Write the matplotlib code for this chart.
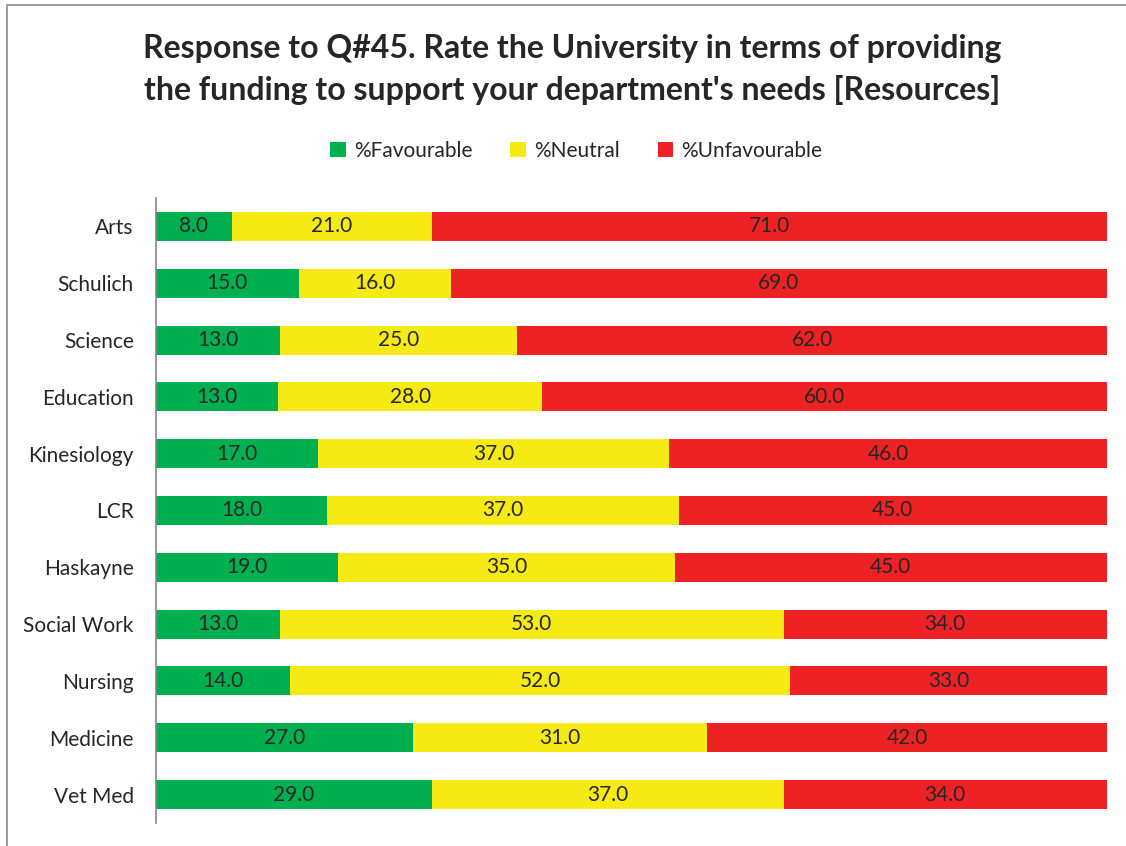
import matplotlib.pyplot as plt
import numpy as np
from matplotlib.patches import Rectangle

plt.rcParams['font.family'] = ['Lato', 'DejaVu Sans']

faculties = ['Arts', 'Schulich', 'Science', 'Education', 'Kinesiology', 'LCR',
             'Haskayne', 'Social Work', 'Nursing', 'Medicine', 'Vet Med']
favourable = [8.0, 15.0, 13.0, 13.0, 17.0, 18.0, 19.0, 13.0, 14.0, 27.0, 29.0]
neutral = [21.0, 16.0, 25.0, 28.0, 37.0, 37.0, 35.0, 53.0, 52.0, 31.0, 37.0]
unfavourable = [71.0, 69.0, 62.0, 60.0, 46.0, 45.0, 45.0, 34.0, 33.0, 42.0, 34.0]

series = [('%Favourable', favourable, '#00B050'),
          ('%Neutral', neutral, '#F5EA14'),
          ('%Unfavourable', unfavourable, '#EE2224')]

fig = plt.figure(figsize=(11.26, 8.46), dpi=100)
ax = fig.add_axes([0.1385, 0.0272, 0.8445, 0.7388])

# outer chart frame (only top/left visible in the reference)
fig.patches.append(Rectangle((7 / 1126, -0.1), 1.2, 1 - 5 / 846 + 0.1,
                             transform=fig.transFigure, fill=False,
                             edgecolor='#8c8c8c', linewidth=1.2))

y = np.arange(len(faculties))
totals = np.array(favourable) + np.array(neutral) + np.array(unfavourable)
left = np.zeros(len(faculties))
for name, vals, color in series:
    vals = np.array(vals)
    width = vals / totals * 100
    ax.barh(y, width, left=left, height=0.51, color=color, label=name)
    for yi, l, w, v in zip(y, left, width, vals):
        ax.text(l + w / 2, yi, f'{v:.1f}', ha='center', va='center',
                fontsize=15, color='#262626')
    left += width

ax.set_xlim(0, 100)
ax.set_ylim(len(faculties) - 0.5, -0.5)
ax.set_yticks(y)
ax.set_yticklabels(faculties, fontsize=15, color='#262626')
ax.tick_params(axis='y', length=0, pad=16)
ax.set_xticks([])
for s in ['top', 'right', 'bottom']:
    ax.spines[s].set_visible(False)
ax.spines['left'].set_color('#868686')
ax.spines['left'].set_linewidth(1.2)

fig.text(0.508, 0.918, "Response to Q#45. Rate the University in terms of providing\n"
         "the funding to support your department's needs [Resources]",
         ha='center', va='center', fontsize=23, fontweight='bold',
         color='#262626', linespacing=1.5)

handles, labels = ax.get_legend_handles_labels()
fig.legend(handles, labels, loc='center', bbox_to_anchor=(0.512, 0.822), ncol=3,
           frameon=False, fontsize=15, handlelength=0.75, handleheight=0.75,
           handletextpad=0.4, columnspacing=1.8, labelcolor='#262626')

fig.savefig('out.png', dpi=100)
